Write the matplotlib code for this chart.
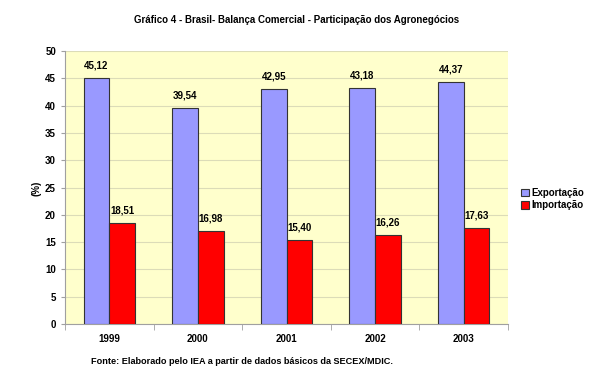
import matplotlib
matplotlib.use("Agg")
import matplotlib.pyplot as plt
import numpy as np

anos = ["1999", "2000", "2001", "2002", "2003"]
exportacao = [45.12, 39.54, 42.95, 43.18, 44.37]
importacao = [18.51, 16.98, 15.40, 16.26, 17.63]

plt.rcParams['font.family'] = ['Liberation Sans', 'DejaVu Sans']
plt.rcParams['font.weight'] = 'bold'

fig = plt.figure(figsize=(6.01, 3.74), dpi=100)
ax = fig.add_axes([65/601, 1-324/374, (508-65)/601, (324-51)/374])
ax.set_facecolor('#FFFFCC')

x = np.arange(len(anos))
w = 0.29
b1 = ax.bar(x - w/2, exportacao, w, color='#9999FF', edgecolor='#333333', linewidth=0.8, label='Exportação', zorder=3)
b2 = ax.bar(x + w/2, importacao, w, color='#FF0000', edgecolor='#333333', linewidth=0.8, label='Importação', zorder=3)

def fmt(v):
    return f"{v:.2f}".replace('.', ',')

for xi, v in zip(x - w/2, exportacao):
    ax.text(xi, v + 1.4, fmt(v), ha='center', va='bottom', fontsize=7, fontweight='bold')
for xi, v in zip(x + w/2, importacao):
    ax.text(xi, v + 1.4, fmt(v), ha='center', va='bottom', fontsize=7, fontweight='bold')

ax.set_xlim(-0.5, len(anos) - 0.5)
ax.set_ylim(0, 50)
ax.set_yticks(np.arange(0, 51, 5))
ax.yaxis.grid(True, color='#DCDCB8', linewidth=0.8, zorder=0)
ax.set_xticks(x)
ax.set_xticklabels(anos)
ax.set_xticks(np.arange(-0.5, len(anos)), minor=True)
ax.tick_params(axis='x', which='major', length=0, pad=7, labelsize=7)
ax.tick_params(axis='x', which='minor', length=4, color='#A0A0A0')
ax.tick_params(axis='y', length=3, color='#A0A0A0', labelsize=7)
for s in ['top', 'right']:
    ax.spines[s].set_visible(False)
for s in ['left', 'bottom']:
    ax.spines[s].set_color('#A0A0A0')
    ax.spines[s].set_linewidth(0.8)

fig.text(37/601, 1-188/374, '(%)', rotation=90, ha='center', va='center', fontsize=7, fontweight='bold')

fig.text(297/601, 1-20/374, 'Gráfico 4 - Brasil- Balança Comercial - Participação dos Agronegócios',
         ha='center', va='center', fontsize=7, fontweight='bold')
fig.text(242/601, 1-362/374, 'Fonte: Elaborado pelo IEA a partir de dados básicos da SECEX/MDIC.',
         ha='center', va='center', fontsize=6.6, fontweight='bold')

leg = fig.legend(handles=[b1, b2], loc='center left', bbox_to_anchor=(514/601, 1-199/374),
                 frameon=False, fontsize=7, handlelength=0.8, handleheight=0.8,
                 handletextpad=0.3, labelspacing=0.25, borderpad=0.2)

fig.savefig('out.png', dpi=100)
